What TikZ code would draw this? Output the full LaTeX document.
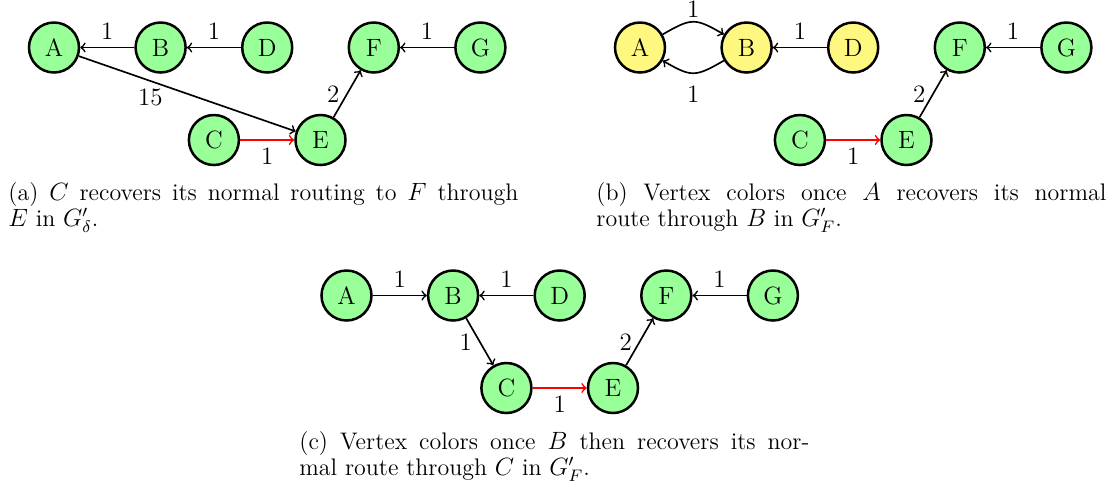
\documentclass[tikz,border=0pt]{standalone}
\begin{document}
\begin{tikzpicture}[x=0.48pt,y=0.48pt,
  vtx/.style={circle,draw,line width=1.2pt,minimum size=24pt,inner sep=0pt,font=\large,fill=green!40},
  vy/.style={vtx,fill=yellow!50},
  edge/.style={->,line width=0.8pt},
  redge/.style={edge,red},
  lab/.style={font=\large},
  captxt/.style={text width=244.8pt,align=justify,inner sep=0pt,anchor=base west,font=\fontsize{11.5}{12.8}\selectfont}]
\useasboundingbox (0,0) rectangle (1120,-492);

% ---------- panel (a)
\node[vtx] (aA) at (54,-47.5) {A};
\node[vtx] (aB) at (160.6,-47.5) {B};
\node[vtx] (aD) at (267.2,-47.5) {D};
\node[vtx] (aF) at (373.8,-47.5) {F};
\node[vtx] (aG) at (480.4,-47.5) {G};
\node[vtx] (aC) at (213.9,-140) {C};
\node[vtx] (aE) at (320.5,-140) {E};
\draw[edge] (aB) -- node[lab,above]{1} (aA);
\draw[edge] (aD) -- node[lab,above]{1} (aB);
\draw[edge] (aG) -- node[lab,above]{1} (aF);
\draw[edge] (aA) -- node[lab,below,pos=0.33]{15} (aE);
\draw[redge] (aC) -- node[lab,below,black]{1} (aE);
\draw[edge] (aE) -- node[lab,left]{2} (aF);
\node[captxt] (capa) at (8,-200) {(a) $C$ recovers its normal routing to $F$ through\linebreak $E$ in $G'_\delta$.};

% ---------- panel (b)
\begin{scope}[shift={(586,0)}]
\node[vy] (bA) at (54,-47.5) {A};
\node[vy] (bB) at (160.6,-47.5) {B};
\node[vy] (bD) at (267.2,-47.5) {D};
\node[vtx] (bF) at (373.8,-47.5) {F};
\node[vtx] (bG) at (480.4,-47.5) {G};
\node[vtx] (bC) at (213.9,-140) {C};
\node[vtx] (bE) at (320.5,-140) {E};
\draw[edge] (bA) to[bend left=30,looseness=1.4] node[lab,above,inner sep=1.5pt]{1} (bB);
\draw[edge] (bB) to[bend left=30,looseness=1.4] node[lab,below,inner sep=5.5pt]{1} (bA);
\draw[edge] (bD) -- node[lab,above]{1} (bB);
\draw[edge] (bG) -- node[lab,above]{1} (bF);
\draw[redge] (bC) -- node[lab,below,black]{1} (bE);
\draw[edge] (bE) -- node[lab,left]{2} (bF);
\end{scope}
\node[captxt] (capb) at (596,-200) {(b) Vertex colors once $A$ recovers its normal\linebreak route through $B$ in $G'_F$.};

% ---------- panel (c)
\begin{scope}[shift={(292.5,-248)}]
\node[vtx] (cA) at (54,-47.5) {A};
\node[vtx] (cB) at (160.6,-47.5) {B};
\node[vtx] (cD) at (267.2,-47.5) {D};
\node[vtx] (cF) at (373.8,-47.5) {F};
\node[vtx] (cG) at (480.4,-47.5) {G};
\node[vtx] (cC) at (213.9,-140) {C};
\node[vtx] (cE) at (320.5,-140) {E};
\draw[edge] (cA) -- node[lab,above]{1} (cB);
\draw[edge] (cD) -- node[lab,above]{1} (cB);
\draw[edge] (cB) -- node[lab,left]{1} (cC);
\draw[edge] (cG) -- node[lab,above]{1} (cF);
\draw[redge] (cC) -- node[lab,below,black]{1} (cE);
\draw[edge] (cE) -- node[lab,left]{2} (cF);
\end{scope}
\node[captxt] (capc) at (299,-449) {(c) Vertex colors once $B$ then recovers its nor-\linebreak mal route through $C$ in $G'_F$.};
\end{tikzpicture}
\end{document}
